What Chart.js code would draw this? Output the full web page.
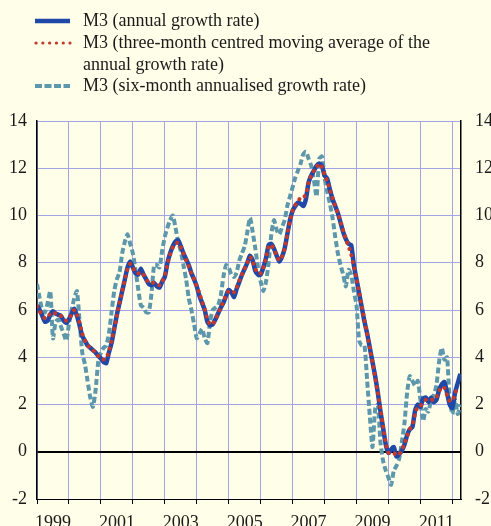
<!DOCTYPE html>
<html>
<head>
<meta charset="utf-8">
<script src="https://cdn.jsdelivr.net/npm/chart.js@4/dist/chart.umd.min.js"></script>
<style>
  html, body { margin: 0; padding: 0; background: #fffee9; overflow: hidden; width: 491px; height: 526px; }
  #wrap { position: relative; width: 491px; height: 526px; overflow: hidden; }
  #chart { position: absolute; left: 0; top: 0; }
  .leg { position: absolute; font-family: "Liberation Serif", "DejaVu Serif", serif; font-size: 18px; line-height: 21.5px; color: #1a1a1a; white-space: nowrap; }
  svg.key { position: absolute; left: 33px; width: 40px; height: 10px; }
</style>
</head>
<body>
<div id="wrap">
  <canvas id="chart" width="505" height="526"></canvas>
  <svg class="key" style="top:16px"><line x1="2" y1="5" x2="37" y2="5" stroke="#1f48a8" stroke-width="4.5"/></svg>
  <svg class="key" style="top:38px"><line x1="3" y1="5" x2="37" y2="5" stroke="#c23a2b" stroke-width="3.2" stroke-linecap="round" stroke-dasharray="0.1 6.7"/></svg>
  <svg class="key" style="top:81px"><line x1="2" y1="5" x2="37" y2="5" stroke="#5d97ab" stroke-width="4" stroke-dasharray="7 2.5"/></svg>
  <div class="leg" style="left:83px; top:10px">M3 (annual growth rate)</div>
  <div class="leg" style="left:83px; top:32px">M3 (three-month centred moving average of the<br>annual growth rate)</div>
  <div class="leg" style="left:83px; top:75px">M3 (six-month annualised growth rate)</div>
</div>
<script>
// monthly values, January 1999 onwards
const startYear = 1999;

const annualGrowth = [
  6.2, 6.0, 5.75, 5.5, 5.55, 5.8, 5.95, 5.85, 5.8, 5.75, 5.55, 5.45,
  5.6, 5.85, 6.05, 5.75, 5.35, 4.9, 4.7, 4.5, 4.4, 4.3, 4.2, 4.05,
  3.95, 3.8, 3.75, 4.2, 4.6, 5.2, 5.8, 6.3, 6.8, 7.3, 7.8, 8.05,
  7.8, 7.55, 7.5, 7.75, 7.5, 7.3, 7.1, 7.05, 7.15, 7.0, 6.95, 7.2,
  7.4, 8.0, 8.4, 8.7, 8.9, 8.95, 8.7, 8.4, 8.15, 7.9, 7.55, 7.3,
  7.0, 6.6, 6.3, 6.0, 5.5, 5.35, 5.4, 5.6, 5.85, 6.1, 6.3, 6.6,
  6.85, 6.75, 6.55, 6.9, 7.2, 7.5, 7.75, 8.0, 8.3, 8.1, 7.65, 7.5,
  7.5, 7.8, 8.2, 8.75, 8.8, 8.6, 8.3, 8.05, 8.25, 8.6, 9.2, 9.8,
  10.2, 10.4, 10.55, 10.5, 10.4, 10.7, 11.4, 11.7, 11.9, 12.1, 12.2, 12.1,
  11.7, 11.55, 11.1, 10.7, 10.4, 10.1, 9.7, 9.3, 9.0, 8.8, 8.75, 7.9,
  7.3, 6.7, 6.1, 5.5, 5.0, 4.4, 3.8, 3.2, 2.5, 1.7, 1.0, 0.3,
  -0.05, 0.1, 0.2, -0.2, -0.1, 0.05, 0.3, 0.7, 0.95, 1.05, 1.75, 2.0,
  1.9, 2.25, 2.3, 2.1, 2.3, 2.1, 2.2, 2.6, 2.85, 2.95, 2.5, 2.0,
  1.85, 2.5, 2.9, 3.3
];

const centredAverage = [
  6.15, 5.95, 5.8, 5.65, 5.7, 5.85, 5.9, 5.85, 5.8, 5.75, 5.6, 5.55,
  5.65, 5.8, 6.0, 5.8, 5.45, 5.0, 4.7, 4.5, 4.4, 4.3, 4.2, 4.05,
  3.95, 3.9, 3.95, 4.25, 4.7, 5.2, 5.75, 6.3, 6.8, 7.3, 7.75, 7.95,
  7.8, 7.6, 7.55, 7.6, 7.5, 7.3, 7.15, 7.15, 7.15, 7.1, 7.05, 7.2,
  7.45, 7.95, 8.35, 8.65, 8.8, 8.85, 8.65, 8.4, 8.1, 7.85, 7.55, 7.3,
  7.0, 6.7, 6.35, 6.05, 5.6, 5.4, 5.4, 5.6, 5.85, 6.1, 6.35, 6.6,
  6.8, 6.8, 6.75, 6.95, 7.25, 7.5, 7.75, 8.0, 8.25, 8.05, 7.75, 7.55,
  7.55, 7.8, 8.2, 8.7, 8.75, 8.55, 8.3, 8.1, 8.25, 8.6, 9.2, 9.75,
  10.2, 10.45, 10.6, 10.75, 10.75, 10.9, 11.4, 11.7, 11.9, 12.05, 12.2, 12.05,
  11.75, 11.45, 11.1, 10.75, 10.4, 10.1, 9.75, 9.35, 9.0, 8.7, 8.35, 7.85,
  7.3, 6.75, 6.15, 5.55, 5.0, 4.4, 3.8, 3.15, 2.5, 1.8, 1.05, 0.35,
  -0.05, -0.05, -0.05, -0.15, -0.1, 0.05, 0.35, 0.65, 0.95, 1.15, 1.6, 1.9,
  1.95, 2.05, 2.2, 2.2, 2.2, 2.2, 2.3, 2.55, 2.75, 2.7, 2.4, 2.15,
  2.15, 2.45, 2.8
];

const sixMonthAnnualised = [
  7.1, 6.5, 6.0, 5.9, 6.3, 6.8, 4.8, 5.5, 5.6, 5.3, 5.0, 4.7,
  5.4, 6.0, 6.5, 6.8, 5.5, 4.2, 3.7, 3.0, 2.3, 1.9, 2.6, 3.8,
  4.2, 4.4, 4.5, 5.0, 5.9, 6.8, 7.3, 7.6, 8.4, 8.9, 9.2, 8.8,
  8.4, 7.7, 6.9, 6.2, 6.1, 5.9, 5.9, 6.7, 7.9, 7.9, 7.8, 8.5,
  9.1, 9.5, 9.8, 10.0, 9.5, 8.9, 8.5, 7.9, 7.3, 6.5, 6.0, 5.4,
  4.8, 5.0, 5.2, 4.8, 4.6, 5.5, 6.0, 6.1, 6.2, 6.6, 7.4, 7.9,
  7.8, 7.5, 7.4, 7.6, 8.1, 8.4, 8.7, 9.3, 9.9, 9.3, 8.6, 7.8,
  7.2, 6.8, 7.2, 8.0, 9.2, 9.8, 9.4, 9.2, 9.5, 9.8, 10.4, 10.8,
  11.2, 11.6, 11.9, 12.2, 12.6, 12.7, 12.4, 12.1, 11.5, 10.8, 12.4, 12.5,
  11.6, 11.0, 10.5, 9.9, 9.1, 8.4, 7.9, 7.5, 7.0, 7.7, 7.5, 6.8,
  6.2, 4.7, 4.5, 4.5, 3.0, 1.5, 0.2, 1.8, 2.0, 0.4, -0.4, -0.8,
  -1.1, -1.4, -0.8, -0.6, -0.3, 0.4, 1.2, 2.5, 3.2, 3.0, 2.8, 3.0,
  2.2, 1.3, 1.8, 1.7, 2.2, 2.4, 2.8, 3.8, 4.4, 3.9, 4.0, 2.2,
  1.6, 2.2, 1.6, 2.0
];

const yTicks = [-2, 0, 2, 4, 6, 8, 10, 12, 14];
const years = [1999, 2000, 2001, 2002, 2003, 2004, 2005, 2006, 2007, 2008, 2009, 2010, 2011, 2012];
const labelYears = [1999, 2001, 2003, 2005, 2007, 2009, 2011];

const gridColor = '#a3a6e4';
const serif = 'Liberation Serif';

const toPoints = arr => arr.map((v, i) => ({ x: startYear + i / 12, y: v }));

const xTickValues = [];
years.forEach(y => { xTickValues.push(y); if (y < 2012) xTickValues.push(y + 0.5); });
const isYear = v => Math.abs(v - Math.round(v)) < 1e-6;

new Chart(document.getElementById('chart'), {
  type: 'line',
  data: {
    datasets: [
      { label: 'M3 (three-month centred moving average of the annual growth rate)', data: toPoints(centredAverage),
        borderColor: '#c8382a', borderWidth: 4, borderDash: [0.1, 6.6], borderCapStyle: 'round', tension: 0.2, order: 0 },
      { label: 'M3 (annual growth rate)', data: toPoints(annualGrowth),
        borderColor: '#1f48a8', borderWidth: 4.5, tension: 0.2, order: 1 },
      { label: 'M3 (six-month annualised growth rate)', data: toPoints(sixMonthAnnualised),
        borderColor: '#5d97ab', borderWidth: 4, borderDash: [6, 3], tension: 0.2, order: 2 }
    ]
  },
  options: {
    responsive: false,
    animation: false,
    layout: { padding: { top: 121, left: 0, right: 0, bottom: 0 } },
    elements: { point: { radius: 0 } },
    plugins: { legend: { display: false }, tooltip: { enabled: false } },
    scales: {
      x: {
        type: 'linear', min: 1999, max: 2012.27,
        afterFit: s => { s.height = 27; },
        afterBuildTicks: s => { s.ticks = xTickValues.map(v => ({ value: v })); },
        grid: {
          color: c => (c.tick && isYear(c.tick.value)) ? gridColor : 'rgba(0,0,0,0)',
          tickColor: c => (c.tick && isYear(c.tick.value)) ? '#000' : 'rgba(0,0,0,0)',
          tickLength: 5, lineWidth: 1
        },
        border: { color: '#000', width: 1 },
        ticks: {
          autoSkip: false, maxRotation: 0, padding: 8, color: '#1a1a1a',
          font: { family: serif, size: 18 },
          callback: v => (!isYear(v) && labelYears.includes(Math.floor(v))) ? String(Math.floor(v)) : ''
        }
      },
      y: {
        position: 'left', min: -2, max: 14,
        afterFit: s => { s.width = 37; },
        afterBuildTicks: s => { s.ticks = yTicks.map(v => ({ value: v })); },
        grid: {
          color: c => c.tick.value === 0 ? '#000' : gridColor,
          lineWidth: c => c.tick.value === 0 ? 2 : 1,
          drawTicks: false
        },
        border: { color: '#000', width: 1.5 },
        ticks: { padding: 10, color: '#1a1a1a', font: { family: serif, size: 18 } }
      },
      y2: {
        position: 'right', min: -2, max: 14,
        afterFit: s => { s.width = 44; },
        afterBuildTicks: s => { s.ticks = yTicks.map(v => ({ value: v })); },
        grid: { drawOnChartArea: false, drawTicks: false },
        border: { color: '#000', width: 1.5 },
        ticks: { padding: 14, color: '#1a1a1a', font: { family: serif, size: 18 } }
      }
    }
  }
});
</script>
</body>
</html>
